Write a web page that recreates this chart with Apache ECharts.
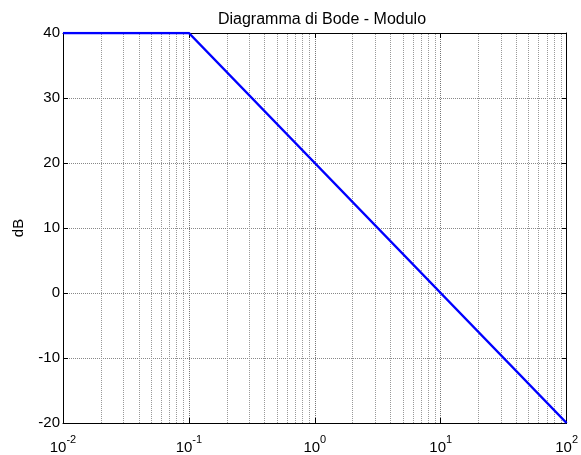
<!DOCTYPE html>
<html>
<head>
<meta charset="utf-8">
<script src="https://cdn.jsdelivr.net/npm/echarts@6/dist/echarts.min.js"></script>
<style>
  html, body { margin: 0; padding: 0; background: #fff; }
  #chart { width: 581px; height: 455px; }
</style>
</head>
<body>
<div id="chart"></div>
<script>
// asymptotic magnitude: flat 40 dB, then -20 dB/decade from 0.1 rad/s
const freq = [0.01, 0.1, 100]
const gainDb = [40, 40, -20]
const decades = [0.01, 0.1, 1, 10, 100]
const exponents = ['-2', '-1', '0', '1', '2']
const minorFreq = []
decades.slice(0, -1).forEach(d => { for (let k = 2; k <= 9; k++) minorFreq.push(+(d * k).toPrecision(3)) })

const font = 'Arial, "Liberation Sans", sans-serif'
const tickIn = { show: true, inside: true, length: 5, lineStyle: { color: '#000' } }
const frame = { show: true, onZero: false, lineStyle: { color: '#000', width: 1 } }

const chart = echarts.init(document.getElementById('chart'))
chart.setOption({
  animation: false,
  title: {
    text: 'Diagramma di Bode - Modulo', left: 317, top: 7, textAlign: 'center',
    textStyle: { fontFamily: font, fontSize: 16, fontWeight: 'normal', color: '#000' }
  },
  grid: { left: 63, right: 8, top: 33, bottom: 31 },
  xAxis: [{
    type: 'log', logBase: 10, min: 0.01, max: 100, splitNumber: 4,
    axisLine: frame,
    axisTick: tickIn,
    axisLabel: {
      margin: 8, fontFamily: font, color: '#000',
      alignMinLabel: 'center', alignMaxLabel: 'center',
      formatter: v => {
        const i = decades.findIndex(d => Math.abs(d - v) < v * 1e-6)
        return '{b|10}{s|' + (i >= 0 ? exponents[i] : '') + '}'
      },
      rich: {
        b: { fontFamily: font, fontSize: 15, color: '#000', padding: [9, 0, 0, 0] },
        s: { fontFamily: font, fontSize: 11, color: '#000', padding: [0, 0, 6, 0] }
      }
    },
    splitLine: { show: true, lineStyle: { color: '#777', type: 'dotted', width: 1 } }
  }, {
    type: 'log', logBase: 10, min: 0.01, max: 100, splitNumber: 4, position: 'top',
    axisLine: frame,
    axisTick: tickIn, axisLabel: { show: false }, splitLine: { show: false }
  }],
  yAxis: [{
    type: 'value', min: -20, max: 40, interval: 10,
    name: 'dB', nameLocation: 'middle', nameGap: 37,
    nameTextStyle: { fontFamily: font, fontSize: 15, color: '#000' },
    axisLine: frame,
    axisTick: tickIn,
    axisLabel: { margin: 3, fontFamily: font, fontSize: 15, color: '#000' },
    splitLine: { show: true, lineStyle: { color: '#888', type: 'dotted', width: 1 } }
  }, {
    type: 'value', min: -20, max: 40, interval: 10, position: 'right',
    axisLine: frame,
    axisTick: tickIn, axisLabel: { show: false }, splitLine: { show: false }
  }],
  series: [{
    type: 'line', symbol: 'none', silent: true,
    data: freq.map((f, i) => [f, gainDb[i]]),
    lineStyle: { color: '#0000ff', width: 2.5 },
    z: 5,
    markLine: {
      silent: true, symbol: 'none', label: { show: false },
      lineStyle: { color: '#999', type: 'dotted', width: 1 },
      data: minorFreq.map(f => ({ xAxis: f }))
    }
  }]
})
</script>
</body>
</html>
